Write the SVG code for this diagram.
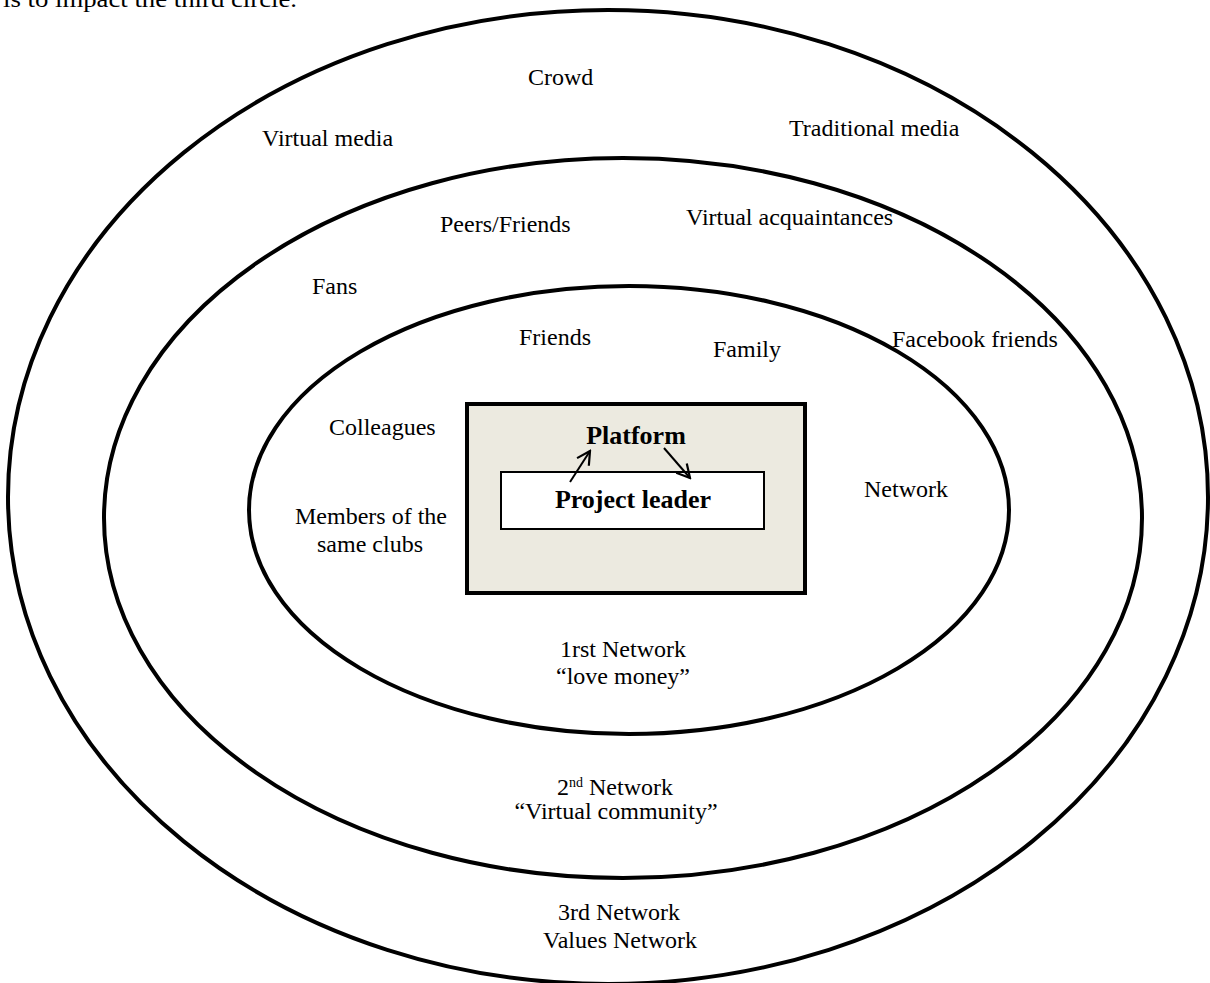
<svg xmlns="http://www.w3.org/2000/svg" width="1210" height="983" viewBox="0 0 1210 983">
<style>
text{font-family:"Liberation Serif","Times New Roman",serif;font-size:24px;fill:#000}
.b{font-weight:bold;font-size:26px}
.ring{fill:none;stroke:#000;stroke-width:4}
.c{text-anchor:middle}
</style>
<defs>
<marker id="ah" markerUnits="userSpaceOnUse" markerWidth="18" markerHeight="18" viewBox="0 0 18 18" refX="16" refY="9" orient="auto">
<path d="M3,2 L16,9 L3,16" fill="none" stroke="#000" stroke-width="2.2"/>
</marker>
</defs>
<rect width="1210" height="983" fill="#fff"/>
<text x="3" y="7" textLength="294" lengthAdjust="spacingAndGlyphs" font-size="26">is to impact the third circle.</text>
<g id="outer"><ellipse class="ring" cx="608" cy="497" rx="600" ry="487"/></g>
<g id="middle"><ellipse class="ring" cx="623" cy="518" rx="519" ry="360"/></g>
<g id="inner"><ellipse class="ring" cx="629" cy="510" rx="380" ry="224"/></g>
<g id="platform">
<rect x="467" y="404" width="338" height="189" fill="#ECEAE0" stroke="#000" stroke-width="4"/>
<text class="b c" x="636" y="444">Platform</text>
</g>
<g id="leader">
<rect x="501" y="472" width="263" height="57" fill="#fff" stroke="#000" stroke-width="2"/>
<text class="b c" x="633" y="508">Project leader</text>
</g>
<g id="connectors">
<line x1="570" y1="482" x2="590" y2="451" stroke="#000" stroke-width="2" marker-end="url(#ah)"/>
<line x1="664" y1="448" x2="690" y2="478" stroke="#000" stroke-width="2" marker-end="url(#ah)"/>
</g>
<g id="labels">
<text x="528" y="85">Crowd</text>
<text x="262" y="146">Virtual media</text>
<text x="789" y="136">Traditional media</text>
<text x="440" y="232">Peers/Friends</text>
<text x="686" y="225">Virtual acquaintances</text>
<text x="312" y="294">Fans</text>
<text x="519" y="345">Friends</text>
<text x="713" y="357">Family</text>
<text x="892" y="347">Facebook friends</text>
<text x="329" y="435">Colleagues</text>
<text x="864" y="497">Network</text>
<text class="c" x="371" y="524">Members of the</text>
<text class="c" x="370" y="552">same clubs</text>
<text class="c" x="623" y="657">1rst Network</text>
<text class="c" x="623" y="684">“love money”</text>
<text class="c" x="615" y="795">2<tspan font-size="14" dy="-8">nd</tspan><tspan dy="8"> Network</tspan></text>
<text class="c" x="616" y="819">“Virtual community”</text>
<text class="c" x="619" y="920">3rd Network</text>
<text class="c" x="620" y="948">Values Network</text>
</g>
</svg>
